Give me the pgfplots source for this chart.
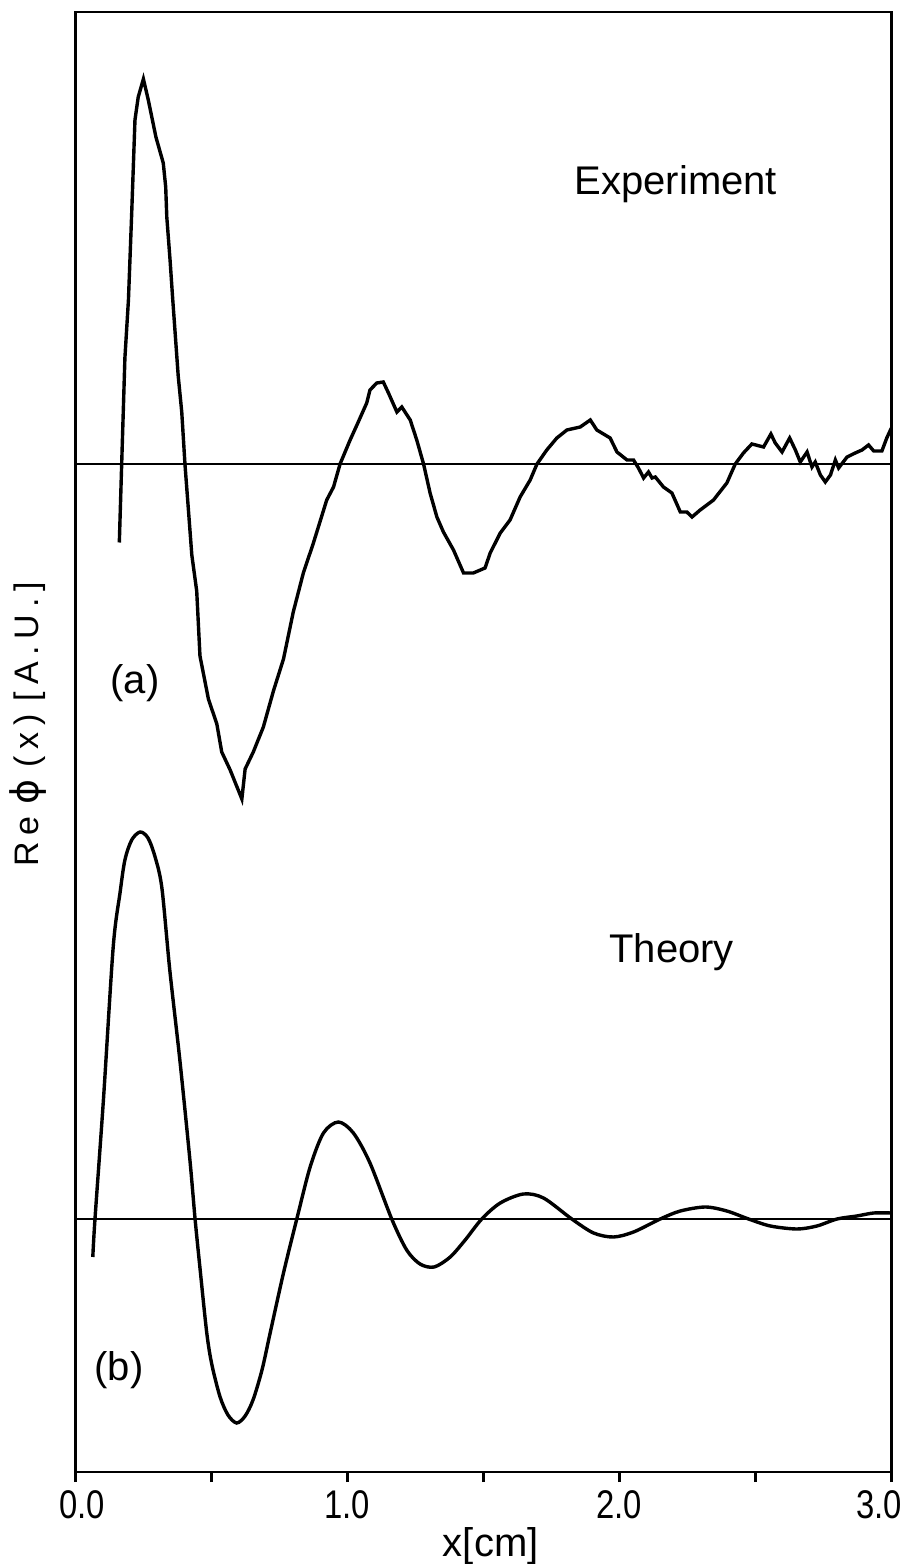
\documentclass[border=0pt]{standalone}
\usepackage{fontspec}
\setmainfont{Liberation Sans}
\newfontfamily\phifont{DejaVu Sans}
\newfontfamily\tickfont[FakeStretch=0.82]{Liberation Sans}
\newfontfamily\ylfont[LetterSpace=20]{Liberation Sans}
\usepackage{pgfplots}
\pgfplotsset{compat=1.18}

\begin{document}
\begin{tikzpicture}
\path[use as bounding box] (-37.7pt,-46pt) rectangle (415pt,736pt);
\begin{axis}[
  at={(0,0)}, anchor=south west,
  scale only axis, width=408pt, height=730pt,
  xmin=0, xmax=3, ymin=0, ymax=1460,
  axis line style={line width=1.4pt},
  xtick={0,0.5,1,1.5,2,2.5,3},
  xticklabels={0.0\hspace*{-7pt},,1.0,,2.0,,\hspace*{-12pt}3.0},
  xtick pos=bottom, ytick=\empty,
  tick align=outside, major tick length=5pt,
  tick style={line width=1.2pt, black},
  /pgf/number format/assume math mode=true,
  xticklabel style={font=\tickfont\fontsize{20}{20}\selectfont, yshift=-1pt},
  xlabel={x[cm]},
  xlabel style={font=\fontsize{20}{20}\selectfont, at={(axis description cs:0.509,-0.0507)}, anchor=center},
  ylabel={\ylfont Re\hspace{0.35em}{\phifont\fontsize{19}{19}\selectfont ϕ}\hspace{0.35em}(x)\hspace{0.4em}[A.U.]},
  ylabel style={font=\fontsize{17}{17}\selectfont, at={(axis description cs:-0.058,0.512)}, anchor=center},
]
% Experiment
\addplot[black, line width=1.7pt] coordinates {
(0.1615,929.5) (0.170,1006.6) (0.182,1114) (0.195,1172) (0.207,1259) (0.219,1352)
(0.231,1375) (0.250,1393) (0.268,1372) (0.296,1335) (0.323,1309) (0.332,1285)
(0.336,1255) (0.348,1212) (0.358,1172) (0.378,1096) (0.391,1060) (0.403,1007)
(0.415,964) (0.428,917) (0.446,881) (0.458,816) (0.489,773) (0.520,748)
(0.538,720) (0.569,702) (0.612,673) (0.624,703) (0.654,720) (0.691,745)
(0.728,781) (0.765,813) (0.801,860) (0.838,899) (0.875,929) (0.924,972)
(0.949,985) (0.973,1008) (1.010,1032) (1.040,1050) (1.071,1069) (1.083,1082)
(1.108,1089) (1.132,1090) (1.151,1079) (1.182,1060) (1.200,1065) (1.231,1052)
(1.255,1032) (1.280,1008) (1.304,979) (1.329,955) (1.353,940) (1.390,922)
(1.427,899) (1.463,899) (1.506,904) (1.525,919) (1.562,939) (1.598,952)
(1.635,975) (1.672,992) (1.697,1008) (1.733,1022) (1.770,1034) (1.807,1042)
(1.856,1045) (1.893,1052) (1.917,1042) (1.966,1034) (1.991,1020) (2.028,1012)
(2.052,1012) (2.070,1004) (2.089,994) (2.107,1000) (2.120,994) (2.132,995)
(2.162,985) (2.193,979) (2.224,960) (2.248,960) (2.267,955) (2.297,962)
(2.346,972) (2.395,989) (2.426,1008) (2.456,1019) (2.487,1028) (2.530,1025)
(2.557,1038) (2.573,1029) (2.598,1020) (2.626,1034) (2.647,1022) (2.665,1010)
(2.690,1020) (2.708,1005) (2.720,1010) (2.739,997) (2.757,990) (2.776,997)
(2.794,1012) (2.806,1004) (2.837,1015) (2.867,1019) (2.892,1022) (2.916,1027)
(2.935,1021) (2.965,1021) (2.983,1034) (3.000,1044)
};
% Theory
\addplot[black, line width=1.7pt, smooth, tension=0.5] coordinates {
(0.064,215) (0.072,253) (0.103,372) (0.139,525) (0.164,579) (0.182,612)
(0.207,632) (0.238,640) (0.267,634) (0.293,615) (0.318,584) (0.347,502)
(0.384,412) (0.421,312) (0.440,253) (0.458,204) (0.483,139) (0.502,107)
(0.532,75) (0.561,57) (0.593,49) (0.624,56) (0.653,72) (0.686,102)
(0.716,139) (0.765,199) (0.814,253) (0.863,305) (0.912,339) (0.967,350)
(1.022,339) (1.083,309) (1.163,253) (1.218,222) (1.267,208) (1.319,205)
(1.378,215) (1.433,232) (1.494,253) (1.562,269) (1.647,278) (1.721,274)
(1.825,253) (1.905,239) (1.978,235) (2.052,240) (2.150,253) (2.224,261)
(2.316,265) (2.395,261) (2.475,253) (2.555,246) (2.653,243) (2.726,246)
(2.800,253) (2.873,256) (2.935,259) (3.000,259)
};
% zero lines
\addplot[black, line width=1.2pt] coordinates {(0,1008) (3,1008)};
\addplot[black, line width=1.2pt] coordinates {(0,253) (3,253)};
\node[font=\fontsize{20}{20}\selectfont] at (axis cs:2.208,1288) {Experiment};
\node[font=\fontsize{20}{20}\selectfont] at (axis cs:2.192,520) {Theory};
\node[font=\fontsize{20}{20}\selectfont] at (axis cs:0.219,789) {(a)};
\node[font=\fontsize{20}{20}\selectfont] at (axis cs:0.160,102) {(b)};
\end{axis}
\end{tikzpicture}
\end{document}
